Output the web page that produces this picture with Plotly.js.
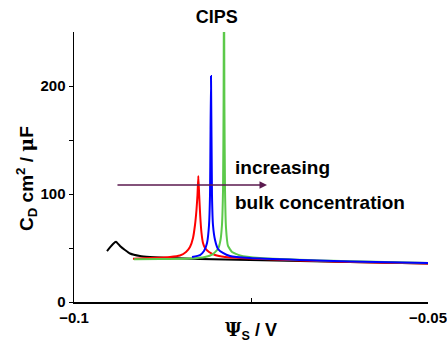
<!DOCTYPE html>
<html>
<head>
<meta charset="utf-8">
<script src="https://cdn.plot.ly/plotly-3.0.1.min.js"></script>
<style>html,body{margin:0;padding:0;background:#fff;}#chart{width:447px;height:343px;}</style>
</head>
<body>
<div id="chart"></div>
<script>
// Surface potential (V) and diffuse-layer capacitance (uF/cm^2)
const blackX = [-0.09534, -0.09492, -0.09449, -0.09407, -0.09350, -0.09280, -0.09209, -0.09068, -0.08927, -0.08644, -0.08220, -0.07514, -0.06808, -0.06102, -0.05];
const blackY = [47.2, 50.5, 53.8, 55.8, 51.9, 48.1, 44.9, 42.6, 41.7, 40.7, 39.8, 38.9, 38.0, 37.0, 35.6];

const redX = [-0.09167, -0.08927, -0.08644, -0.08503, -0.08418, -0.08362, -0.08319, -0.08291, -0.08270, -0.08256, -0.08244, -0.08232, -0.08218, -0.08199, -0.08178, -0.08150, -0.08093, -0.08008, -0.07867, -0.07514, -0.06808, -0.06102, -0.05];
const redY = [40.1, 40.7, 41.7, 43.1, 46.3, 50.9, 59.3, 71.3, 85.2, 99.0, 116.7, 99.0, 80.6, 63.9, 54.6, 50.0, 46.3, 43.5, 41.7, 40.3, 38.4, 37.0, 35.6];

const greenX = [-0.09153, -0.08785, -0.08362, -0.08150, -0.08037, -0.07966, -0.07931, -0.07910, -0.07895, -0.07887, -0.07881, -0.07876, -0.07867, -0.07853, -0.07825, -0.07768, -0.07655, -0.07373, -0.06526, -0.05];
const greenY = [39.5, 39.8, 40.3, 41.7, 44.4, 49.1, 57.4, 71.3, 103.7, 187.0, 320.0, 187.0, 103.7, 68.5, 51.9, 46.3, 43.1, 40.7, 38.4, 36.1];

const blueX = [-0.08333, -0.08220, -0.08164, -0.08121, -0.08093, -0.08079, -0.08065, -0.08051, -0.08037, -0.08008, -0.07966, -0.07896, -0.07797, -0.07514, -0.06808, -0.06102, -0.05];
const blueY = [41.7, 43.5, 47.2, 54.6, 71.3, 99.0, 209.3, 99.0, 71.3, 57.4, 49.1, 45.4, 42.6, 40.7, 38.9, 37.5, 36.1];

const xTickVals = [-0.1, -0.05];
const xTickText = ['\u22120.1', '\u22120.05'];
const xMinorVals = [-0.075];
const yTickVals = [0, 100, 200];
const yTickText = ['0', '100', '200'];
const yMinorVals = [50, 150];

const arrowX = [-0.09407, -0.07274];
const arrowY = 108.3;
const labelX = -0.0776;

const mk = (x, y, c) => ({x: x, y: y, type: 'scatter', mode: 'lines', line: {color: c, width: 2, shape: 'spline', smoothing: 0.4}, hoverinfo: 'skip'});

const data = [
  mk(blackX, blackY, '#000000'),
  mk(redX, redY, '#ff0000'),
  mk(greenX, greenY, '#5cc94a'),
  mk(blueX, blueY, '#0000ff')
];

const boldFont = {family: 'Liberation Sans, Arial, sans-serif', color: '#000', weight: 'bold'};
const pad = '<span style="fill:rgba(0,0,0,0)">nn</span>';

const layout = {
  width: 447, height: 343,
  margin: {l: 74, r: 19, t: 32, b: 41, pad: 0},
  paper_bgcolor: '#fff', plot_bgcolor: '#fff',
  showlegend: false,
  font: Object.assign({size: 14}, boldFont),
  title: {text: 'CIPS', font: Object.assign({size: 18}, boldFont), x: 0.485, xanchor: 'center', y: 0.95, yanchor: 'middle'},
  xaxis: {
    range: [-0.1, -0.05], tickmode: 'array', tickvals: xTickVals, ticktext: xTickText,
    ticks: 'inside', ticklen: 4, tickwidth: 1, tickcolor: '#000', ticklabelstandoff: 1,
    minor: {tickmode: 'array', tickvals: xMinorVals, ticks: 'inside', ticklen: 4, tickwidth: 1, tickcolor: '#000', showgrid: false},
    showline: true, linecolor: '#000', linewidth: 1.5, showgrid: false, zeroline: false,
    tickfont: Object.assign({size: 15}, boldFont),
    title: {text: '<span style="font-family:DejaVu Serif">\u03A8</span><sub>S</sub> / V', font: Object.assign({size: 18}, boldFont), standoff: 1}
  },
  yaxis: {
    range: [0, 250], tickmode: 'array', tickvals: yTickVals, ticktext: yTickText,
    ticks: 'outside', ticklen: 4, tickwidth: 1, tickcolor: '#000',
    minor: {tickmode: 'array', tickvals: yMinorVals, ticks: 'outside', ticklen: 4, tickwidth: 1, tickcolor: '#000', showgrid: false},
    showline: true, linecolor: '#000', linewidth: 1.5, showgrid: false, zeroline: false,
    tickfont: Object.assign({size: 15}, boldFont),
    title: {text: 'C<sub>D</sub> cm<sup>2</sup> / <span style="font-family:DejaVu Serif">\u03BC</span>F' + pad, font: Object.assign({size: 19}, boldFont), standoff: 2}
  },
  annotations: [
    {x: arrowX[1], y: arrowY, ax: arrowX[0], ay: arrowY, xref: 'x', yref: 'y', axref: 'x', ayref: 'y',
     showarrow: true, arrowhead: 2, arrowsize: 1, arrowwidth: 1.5, arrowcolor: '#5b1a4f', text: ''},
    {x: labelX, y: 125, xref: 'x', yref: 'y', xanchor: 'left', yanchor: 'middle', showarrow: false,
     text: 'increasing', font: Object.assign({size: 19}, boldFont)},
    {x: labelX, y: 92, xref: 'x', yref: 'y', xanchor: 'left', yanchor: 'middle', showarrow: false,
     text: 'bulk concentration', font: Object.assign({size: 19}, boldFont)}
  ]
};

Plotly.newPlot('chart', data, layout, {staticPlot: true, displayModeBar: false});
</script>
</body>
</html>
